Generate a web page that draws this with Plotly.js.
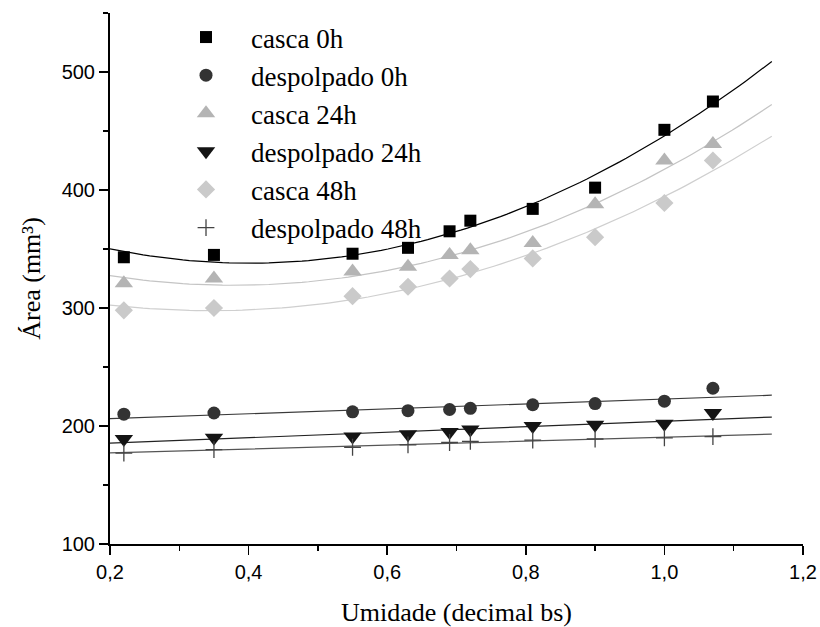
<!DOCTYPE html>
<html>
<head>
<meta charset="utf-8">
<script src="https://cdn.plot.ly/plotly-3.0.1.min.js"></script>
<style>html,body{margin:0;padding:0;background:#fff;}#chart{width:820px;height:627px;}</style>
</head>
<body>
<div id="chart"></div>
<script>
// ---- data ----
var umidade = [0.22, 0.35, 0.55, 0.63, 0.69, 0.72, 0.81, 0.90, 1.00, 1.07];
var cascaOh   = [343, 345, 346, 351, 365, 374, 384, 402, 451, 475];
var despOh    = [210, 211, 212, 213, 214, 215, 218, 219, 221, 232];
var casca24h  = [321, 325, 331, 335, 345, 349, 355, 388, 425, 439];
var desp24h   = [189, 190, 191, 193, 195, 197, 200, 201, 202, 211];
var casca48h  = [298, 300, 310, 318, 325, 333, 342, 360, 389, 425];
var desp48h   = [177, 180, 182, 184, 186, 187, 188, 189, 190, 191];
var seriesNames = ['casca 0h', 'despolpado 0h', 'casca 24h', 'despolpado 24h', 'casca 48h', 'despolpado 48h'];
var fitRange = [0.2, 1.155];

// least squares polynomial fit (degree 1 or 2) of the data
function polyfit(x, y, deg) {
  var n = deg + 1, A = [], b = [];
  for (var i = 0; i < n; i++) { A.push(new Array(n).fill(0)); b.push(0); }
  for (var k = 0; k < x.length; k++) {
    for (var i = 0; i < n; i++) {
      for (var j = 0; j < n; j++) A[i][j] += Math.pow(x[k], i + j);
      b[i] += y[k] * Math.pow(x[k], i);
    }
  }
  for (var i = 0; i < n; i++) {
    var p = i;
    for (var r = i + 1; r < n; r++) if (Math.abs(A[r][i]) > Math.abs(A[p][i])) p = r;
    var t = A[i]; A[i] = A[p]; A[p] = t; var tb = b[i]; b[i] = b[p]; b[p] = tb;
    for (var r = i + 1; r < n; r++) {
      var f = A[r][i] / A[i][i];
      for (var c = i; c < n; c++) A[r][c] -= f * A[i][c];
      b[r] -= f * b[i];
    }
  }
  var coef = new Array(n).fill(0);
  for (var i = n - 1; i >= 0; i--) {
    var s = b[i];
    for (var c = i + 1; c < n; c++) s -= A[i][c] * coef[c];
    coef[i] = s / A[i][i];
  }
  return coef;
}
function fitCurve(x, y, deg) {
  var c = polyfit(x, y, deg), xs = [], ys = [];
  for (var i = 0; i <= 100; i++) {
    var xv = fitRange[0] + (fitRange[1] - fitRange[0]) * i / 100;
    var yv = 0;
    for (var j = 0; j < c.length; j++) yv += c[j] * Math.pow(xv, j);
    xs.push(xv); ys.push(yv);
  }
  return {x: xs, y: ys};
}

var allY = [cascaOh, despOh, casca24h, desp24h, casca48h, desp48h];
var degs = [2, 1, 2, 1, 2, 1];
var lineColors = ['#000000', '#3a3a3a', '#c4c4c4', '#222222', '#cfcfcf', '#555555'];
var markers = [
  {symbol: 'square', size: 12, color: '#000000'},
  {symbol: 'circle', size: 13, color: '#333333'},
  {symbol: 'triangle-up', size: 16, color: '#b4b4b4'},
  {symbol: 'triangle-down', size: 16, color: '#141414'},
  {symbol: 'diamond', size: 14, color: '#cacaca'},
  {symbol: 'cross-thin', size: 12, color: '#444444', line: {width: 1.3, color: '#444444'}}
];

var traces = [];
for (var s = 0; s < 6; s++) {
  var f = fitCurve(umidade, allY[s], degs[s]);
  traces.push({x: f.x, y: f.y, mode: 'lines', showlegend: false, hoverinfo: 'skip',
    line: {color: lineColors[s], width: 1.2}});
}
for (var s = 0; s < 6; s++) {
  var m = markers[s];
  traces.push({x: umidade, y: allY[s], mode: 'markers', name: seriesNames[s],
    marker: {symbol: m.symbol, size: m.size, color: m.color, line: m.line || {width: 0}}});
}

var layout = {
  width: 820, height: 627,
  margin: {l: 110, r: 17, t: 13, b: 83},
  paper_bgcolor: '#ffffff', plot_bgcolor: '#ffffff',
  separators: ', ',
  showlegend: true,
  legend: {x: 0.0736, y: 1.0, xanchor: 'left', yanchor: 'top', bgcolor: 'rgba(0,0,0,0)',
    font: {family: 'Liberation Serif, Times New Roman, serif', size: 27, color: '#000'},
    itemwidth: 80, tracegroupgap: 0},
  xaxis: {
    range: [0.2, 1.2], dtick: 0.2, tick0: 0.2, tickformat: '.1f',
    showgrid: false, zeroline: false, showline: true, linecolor: '#000', linewidth: 2,
    ticks: 'outside', ticklen: 9, tickwidth: 1.5, tickcolor: '#000',
    minor: {ticks: 'outside', ticklen: 5, tickwidth: 1.5, tickcolor: '#000', dtick: 0.1},
    tickfont: {family: 'Liberation Sans, Arial, sans-serif', size: 20, color: '#000'},
    title: {text: 'Umidade (decimal bs)', standoff: 23,
      font: {family: 'Liberation Serif, Times New Roman, serif', size: 26, color: '#000'}}
  },
  yaxis: {
    range: [100, 550], dtick: 100, tick0: 100,
    showgrid: false, zeroline: false, showline: true, linecolor: '#000', linewidth: 2,
    ticks: 'outside', ticklen: 9, tickwidth: 1.5, tickcolor: '#000',
    minor: {ticks: 'outside', ticklen: 5, tickwidth: 1.5, tickcolor: '#000', dtick: 50},
    tickfont: {family: 'Liberation Sans, Arial, sans-serif', size: 20, color: '#000'},
    title: {text: 'Área (mm³)', standoff: 14,
      font: {family: 'Liberation Serif, Times New Roman, serif', size: 26, color: '#000'}}
  }
};

Plotly.newPlot('chart', traces, layout, {displayModeBar: false, staticPlot: true});
</script>
</body>
</html>
